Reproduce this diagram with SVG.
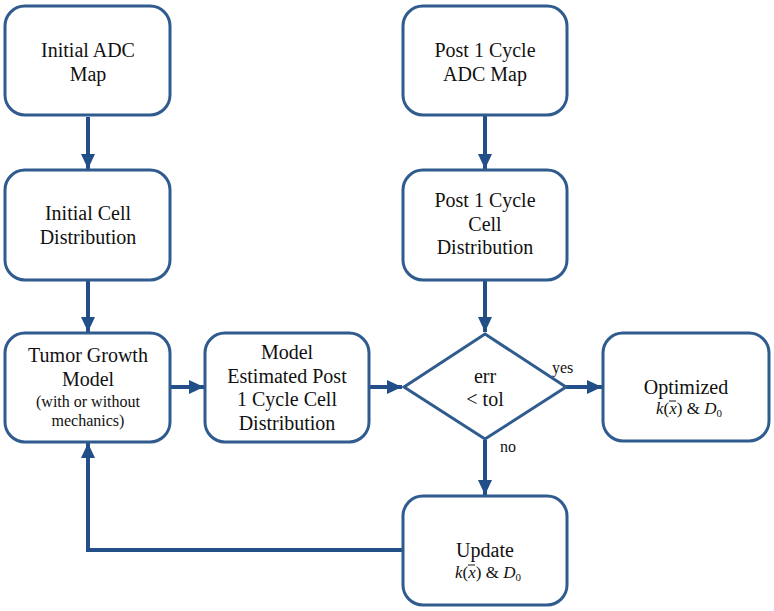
<svg xmlns="http://www.w3.org/2000/svg" width="774" height="611" viewBox="0 0 774 611">
<defs>
<style>
.box{fill:#fff;stroke:#2f5b8e;stroke-width:3}
.t{font-family:'Liberation Serif','Times New Roman',serif;font-size:20px;fill:#111;text-anchor:middle}
.s{font-family:'Liberation Serif','Times New Roman',serif;font-size:16px;fill:#111;text-anchor:middle}
.f{font-family:'Liberation Serif','Times New Roman',serif;font-size:17px;fill:#111;text-anchor:middle}
.lbl{font-family:'Liberation Serif','Times New Roman',serif;font-size:16px;fill:#111}
.i{font-style:italic}
.bar{stroke:#111;stroke-width:1}
.c{fill:none;stroke:#234f88;stroke-width:4}
</style>
<marker id="ah" markerUnits="userSpaceOnUse" markerWidth="16" markerHeight="14" refX="15" refY="7" orient="auto">
<path d="M0,0 L15,7 L0,14 Z" fill="#234f88"/>
</marker>
</defs>
<rect width="774" height="611" fill="#fff"/>
<g id="connectors">
<line class="c" x1="88" y1="117" x2="88" y2="169" marker-end="url(#ah)"/>
<line class="c" x1="88" y1="281" x2="88" y2="332" marker-end="url(#ah)"/>
<line class="c" x1="171" y1="387" x2="204" y2="387" marker-end="url(#ah)"/>
<line class="c" x1="370" y1="387" x2="402" y2="387" marker-end="url(#ah)"/>
<line class="c" x1="485" y1="116" x2="485" y2="169" marker-end="url(#ah)"/>
<line class="c" x1="485" y1="281" x2="485" y2="332" marker-end="url(#ah)"/>
<line class="c" x1="566" y1="387" x2="602" y2="387" marker-end="url(#ah)"/>
<line class="c" x1="485" y1="440" x2="485" y2="495" marker-end="url(#ah)"/>
<polyline class="c" points="403,550 88,550 88,443" marker-end="url(#ah)"/>
<text class="lbl" x="552" y="373">yes</text>
<text class="lbl" x="500" y="452">no</text>
</g>
<g id="initial-adc">
<rect class="box" x="5" y="6" width="165" height="109" rx="20"/>
<text class="t" x="88" y="57">Initial ADC</text>
<text class="t" x="88" y="81">Map</text>
</g>
<g id="initial-cell">
<rect class="box" x="5" y="170" width="165" height="110" rx="20"/>
<text class="t" x="88" y="220">Initial Cell</text>
<text class="t" x="88" y="244">Distribution</text>
</g>
<g id="tumor-model">
<rect class="box" x="5" y="333" width="165" height="109" rx="20"/>
<text class="t" x="88" y="362">Tumor Growth</text>
<text class="t" x="88" y="386">Model</text>
<text class="s" x="88" y="407">(with or without</text>
<text class="s" x="88" y="426">mechanics)</text>
</g>
<g id="model-estimated">
<rect class="box" x="205" y="333" width="164" height="109" rx="20"/>
<text class="t" x="287" y="359">Model</text>
<text class="t" x="287" y="383">Estimated Post</text>
<text class="t" x="287" y="406">1 Cycle Cell</text>
<text class="t" x="287" y="430">Distribution</text>
</g>
<g id="post-adc">
<rect class="box" x="403" y="6" width="164" height="109" rx="20"/>
<text class="t" x="485" y="57">Post 1 Cycle</text>
<text class="t" x="485" y="81">ADC Map</text>
</g>
<g id="post-cell">
<rect class="box" x="403" y="170" width="164" height="110" rx="20"/>
<text class="t" x="485" y="207">Post 1 Cycle</text>
<text class="t" x="485" y="231">Cell</text>
<text class="t" x="485" y="254">Distribution</text>
</g>
<g id="decision">
<polygon class="box" points="485,334 566,387 485,439 404,387"/>
<text class="t" x="485" y="383">err</text>
<text class="t" x="485" y="406">&lt; tol</text>
</g>
<g id="optimized">
<rect class="box" x="603" y="333" width="166" height="108" rx="20"/>
<text class="t" x="686" y="394">Optimized</text>
<text class="f" x="689" y="414"><tspan class="i">k</tspan>(<tspan class="i">x</tspan>) &amp; <tspan class="i">D</tspan><tspan font-size="11" dy="3">0</tspan></text>
<line class="bar" x1="669" y1="401" x2="676" y2="401"/>
</g>
<g id="update">
<rect class="box" x="403" y="496" width="164" height="109" rx="20"/>
<text class="t" x="485" y="557">Update</text>
<text class="f" x="488" y="578"><tspan class="i">k</tspan>(<tspan class="i">x</tspan>) &amp; <tspan class="i">D</tspan><tspan font-size="11" dy="3">0</tspan></text>
<line class="bar" x1="468" y1="565" x2="475" y2="565"/>
</g>
</svg>
